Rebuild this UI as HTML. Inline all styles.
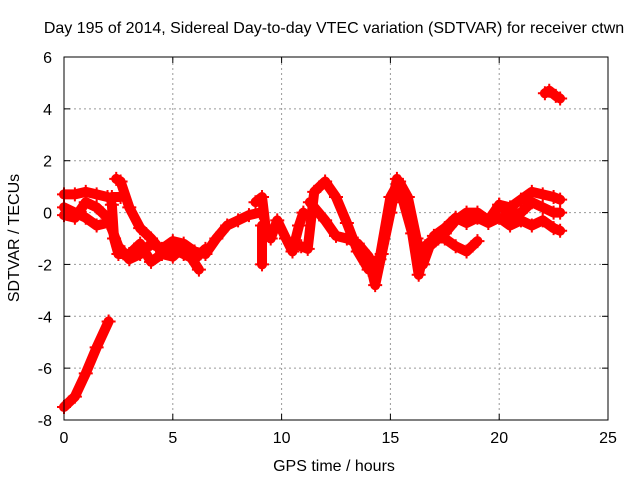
<!DOCTYPE html>
<html><head><meta charset="utf-8"><style>
body{margin:0;background:#fff}
svg text{font-family:"Liberation Sans",sans-serif;font-size:16px;fill:#000}
</style></head><body>
<svg id="c" width="640" height="480" xmlns="http://www.w3.org/2000/svg">
<text x="334" y="33" text-anchor="middle">Day 195 of 2014, Sidereal Day-to-day VTEC variation (SDTVAR) for receiver ctwn</text>
<text x="334" y="471" text-anchor="middle">GPS time / hours</text>
<text transform="translate(19,238) rotate(-90)" text-anchor="middle">SDTVAR / TECUs</text>
<g id="grid"></g><g id="marks"></g>
<rect x="64" y="57" width="544" height="363" fill="none" stroke="#000" stroke-width="1"/>
</svg>
<script>
const xTicks=[0,5,10,15,20,25];
const yTicks=[-8,-6,-4,-2,0,2,4,6];
const trackA=[[0,-7.5],[0.5,-7.1],[1,-6.2],[1.5,-5.2],[2.05,-4.2]];
const trackB=[[0,0.7],[0.5,0.7],[1,0.8],[1.5,0.7],[2,0.6]];
const trackB2=[[2.2,0.6],[2.6,0.6]];
const trackC=[[0,-0.1],[0.5,-0.2],[1,0.4],[1.5,0.2],[2,-0.2],[2.5,-1.3],[3,-1.8],[3.5,-1.6],[4,-1.2],[4.5,-1.4],[5,-1.1],[5.5,-1.2],[6,-1.5],[6.5,-1.6],[7,-1.0],[7.5,-0.5],[8,-0.3],[8.5,-0.1],[9,0.0]];
const trackD=[[2.4,1.3],[2.6,1.2],[3,0.2],[3.5,-0.6],[4,-1.0],[4.5,-1.5],[5,-1.4],[5.5,-1.6],[6,-1.8],[6.5,-1.4]];
const trackE=[[0,0.2],[1,-0.2],[1.5,-0.5],[2,-0.4]];
const trackF=[[2.2,0.3],[2.3,-1.0],[2.5,-1.6],[3,-1.6],[3.5,-1.2],[4,-1.9],[4.5,-1.6],[5,-1.7],[5.5,-1.3],[6.2,-2.2]];
const trackG=[[8.8,0.4],[9.1,0.6],[9.3,-0.8],[9.5,-1.0],[9.8,-0.3],[10.2,-1.0],[10.5,-1.5],[10.8,-0.5],[11,0]];
const trackG2=[[9.1,-0.5],[9.1,-2.0]];
const trackH=[[10.9,-1.3],[11.2,-1.4],[11.5,0.8],[12,1.2],[12.5,0.6],[13,-0.4],[13.5,-1.5],[14,-2.2],[14.5,-1.8],[15,0.6],[15.4,1.2],[15.8,0.6],[16.2,-1.0],[16.5,-2.0],[16.8,-1.3],[17.2,-1.0],[17.5,-0.8],[18,-0.3],[18.5,0.0],[19,0.0],[19.5,-0.3],[20,0.3],[20.5,0.2],[21,0.5],[21.5,0.8],[22,0.7],[22.5,0.6],[22.8,0.5]];
const trackI=[[11.3,0.4],[12,-0.3],[12.5,-0.9],[13,-1.0],[13.5,-1.2],[14,-1.7],[14.3,-2.8],[14.6,-1.6],[15,0.0],[15.3,1.3],[15.6,0.4],[16,-0.8],[16.3,-2.4],[16.6,-1.3],[17,-1.0],[17.5,-1.0],[18,-1.3],[18.5,-1.5],[19,-1.1]];
const trackJ=[[17,-0.9],[17.5,-0.6],[18,-0.2],[18.5,-0.4],[19,-0.2],[19.5,-0.4],[20,-0.2],[20.5,-0.5],[21,-0.3],[21.5,-0.5],[22,-0.3],[22.5,-0.6],[22.8,-0.7]];
const trackK=[[20,0.3],[20.5,-0.1],[21,0.0],[21.5,0.4],[22,0.2],[22.5,0.0],[22.8,0.0]];
const trackL=[[22.1,4.6],[22.3,4.7],[22.6,4.5],[22.8,4.4]];
const tracks=[trackA,trackB,trackB2,trackC,trackD,trackE,trackF,trackG,trackG2,trackH,trackI,trackJ,trackK,trackL];

const NS="http://www.w3.org/2000/svg";
const X0=64,X1=608,Y0=420,Y1=57;
const sx=t=>X0+(t-0)/(25-0)*(X1-X0);
const sy=v=>Y0-(v-(-8))/(6-(-8))*(Y0-Y1);
const grid=document.getElementById('grid'),marks=document.getElementById('marks');
function mk(tag,at,parent){const e=document.createElementNS(NS,tag);for(const k in at)e.setAttribute(k,at[k]);parent.appendChild(e);return e;}
xTicks.forEach(t=>{
  const x=sx(t);
  if(t>0&&t<25){const g=mk('line',{x1:x,x2:x,y1:Y0,y2:Y1,stroke:'#999','stroke-dasharray':'2,3'},grid);
  
  }
  mk('line',{x1:x,x2:x,y1:Y0,y2:Y0-6,stroke:'#000'},grid);
  mk('line',{x1:x,x2:x,y1:Y1,y2:Y1+6,stroke:'#000'},grid);
  const tx=mk('text',{x:x,y:443,'text-anchor':'middle'},grid);tx.textContent=t;
  
  
});
yTicks.forEach(v=>{
  const y=sy(v);
  if(v>-8&&v<6){const g=mk('line',{x1:X0,x2:X1,y1:y,y2:y,stroke:'#999','stroke-dasharray':'2,3'},grid);
  
  }
  mk('line',{x1:X0,x2:X0+6,y1:y,y2:y,stroke:'#000'},grid);
  mk('line',{x1:X1,x2:X1-6,y1:y,y2:y,stroke:'#000'},grid);
  const tx=mk('text',{x:52,y:y+6,'text-anchor':'end'},grid);tx.textContent=v;
  
  
});
tracks.forEach(tr=>{
  const p=mk('polyline',{points:tr.map(d=>sx(d[0])+','+sy(d[1])).join(' '),fill:'none',stroke:'#f00','stroke-width':10,'stroke-linejoin':'round','stroke-linecap':'round'},marks);
  
  
  tr.forEach(d=>{
    const x=sx(d[0]),y=sy(d[1]);
    const m=mk('path',{d:`M${x-7},${y}H${x+7}M${x},${y-7}V${y+7}`,stroke:'#f00','stroke-width':2},marks);
    
    
  });
});
</script>
</body></html>
